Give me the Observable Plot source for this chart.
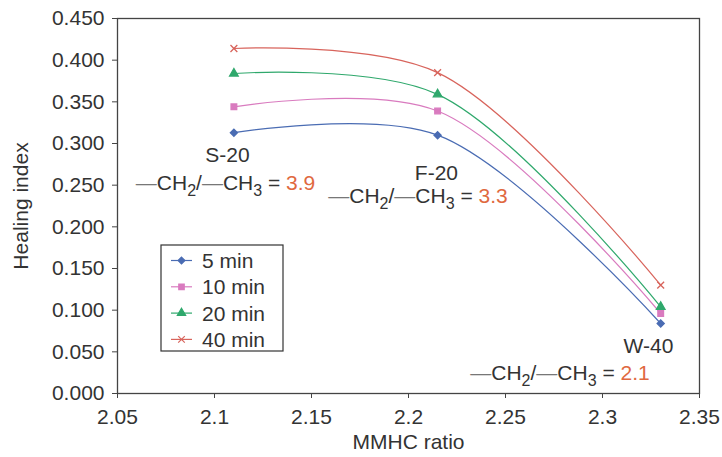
<!DOCTYPE html>
<html><head><meta charset="utf-8">
<script src="https://cdn.jsdelivr.net/npm/d3@7"></script>
<script src="https://cdn.jsdelivr.net/npm/@observablehq/plot@0.6"></script>
<style>html,body{margin:0;padding:0;background:#fff;overflow:hidden}#chart svg{display:block}</style>
</head><body><div id="chart"></div>
<script>
const ratios = [2.11, 2.215, 2.33];
const seriesNames = ["5 min", "10 min", "20 min", "40 min"];
const v5 = [0.313, 0.310, 0.084];
const v10 = [0.344, 0.339, 0.096];
const v20 = [0.384, 0.359, 0.104];
const v40 = [0.414, 0.385, 0.130];
const colors = ["#4a6cb3", "#d97bbf", "#2fa86c", "#d8645c"];
const symbols = ["diamond2", "square", "triangle", "times"];
const xTicks = [2.05, 2.1, 2.15, 2.2, 2.25, 2.3, 2.35];
const yTicks = [0, 0.05, 0.1, 0.15, 0.2, 0.25, 0.3, 0.35, 0.4, 0.45];
const sampleNames = ["S-20", "F-20", "W-40"];
const sampleLabelX = [2.1067, 2.2144, 2.3237];
const sampleLabelY = [0.2857, 0.2641, 0.0564];
const ratioText = ["3.9", "3.3", "2.1"];
const formulaX = [2.1057, 2.2049, 2.2781];
const formulaY = [0.2521, 0.2365, 0.0246];

const allVals = [v5, v10, v20, v40];
const data = [];
allVals.forEach((vals, s) => vals.forEach((v, i) => data.push({x: ratios[i], y: v, s: seriesNames[s]})));
const ann = sampleNames.map((n, i) => ({n, lx: sampleLabelX[i], ly: sampleLabelY[i], r: ratioText[i], fx: formulaX[i], fy: formulaY[i]}));

const FS = 21;
const axisColor = "#444";
const chart = Plot.plot({
  width: 722, height: 457,
  marginLeft: 117, marginRight: 23, marginTop: 18, marginBottom: 64,
  style: {fontFamily: "Liberation Sans, Arial, sans-serif", color: "#333", background: "#fff", fontSize: FS + "px"},
  x: {domain: [2.05, 2.35]},
  y: {domain: [0, 0.45]},
  color: {domain: seriesNames, range: colors},
  symbol: {domain: seriesNames, range: symbols},
  marks: [
    Plot.frame({stroke: axisColor, strokeWidth: 1.3}),
    Plot.axisX({ticks: xTicks, tickFormat: d => String(+d.toFixed(2)), fontSize: FS, tickSize: 5, tickPadding: 11, stroke: axisColor,
      label: "MMHC ratio", labelAnchor: "center", labelArrow: "none", labelOffset: 55}),
    Plot.axisY({ticks: yTicks, tickFormat: d3.format(".3f"), fontSize: FS, tickSize: 5, tickPadding: 8, stroke: axisColor,
      label: "Healing index", labelAnchor: "center", labelArrow: "none", labelOffset: 104}),
    Plot.line(data, {x: "x", y: "y", z: "s", stroke: "s", curve: "catmull-rom", strokeWidth: 1.2}),
    Plot.dot(data, {x: "x", y: "y", symbol: "s", fill: "s", stroke: "s", r: 3.2, strokeWidth: 1.3}),
    Plot.text(ann, {x: "lx", y: "ly", text: "n", fontSize: FS, fill: "#333"}),
    Plot.text(ann, {x: "fx", y: "fy", text: "r", fontSize: FS, fill: "#333"})
  ]
});
const svg = d3.select(chart);
svg.selectAll("g[aria-label='x-axis label'], g[aria-label='y-axis label']").attr("font-size", 21);

// Rebuild formula text (second text mark) with real subscripts
const textGroups = svg.selectAll("g[aria-label='text']").nodes();
d3.select(textGroups[textGroups.length - 1]).selectAll("text").each(function() {
  const t = d3.select(this);
  const val = t.text();
  t.text(null);
  const parts = [
    ["\u2014", "dash"], ["CH", null], ["2", "sub"], ["/", "up"], ["\u2014", "dash"], ["CH", null], ["3", "sub"], [" = ", "up"], [val, "num"]
  ];
  parts.forEach(([s, kind]) => {
    const sp = t.append("tspan").text(s);
    if (kind === "sub") sp.attr("font-size", 16).attr("dy", 6);
    if (kind === "up") sp.attr("dy", -6);
    if (kind === "dash") sp.attr("fill", "#777");
    if (kind === "num") sp.attr("fill", "#e0693f");
  });
});

const lg = svg.append("g").attr("font-family", "Liberation Sans, Arial, sans-serif").attr("text-anchor", "start");
lg.append("rect").attr("x", 161).attr("y", 245).attr("width", 122).attr("height", 106)
  .attr("fill", "#fff").attr("stroke", "#333").attr("stroke-width", 1.2);
const symTypes = [d3.symbolDiamond2, d3.symbolSquare, d3.symbolTriangle, d3.symbolTimes];
seriesNames.forEach((n, i) => {
  const cy = 260.5 + i * 26.3;
  lg.append("line").attr("x1", 171).attr("x2", 192).attr("y1", cy).attr("y2", cy).attr("stroke", colors[i]).attr("stroke-width", 1.2);
  lg.append("path").attr("d", d3.symbol(symTypes[i], 30)()).attr("transform", `translate(181.5,${cy})`)
    .attr("fill", colors[i]).attr("stroke", colors[i]).attr("stroke-width", 1.2);
  lg.append("text").attr("x", 202).attr("y", cy).attr("dy", "0.36em").attr("font-size", FS).attr("fill", "#333").text(n);
});
document.getElementById("chart").appendChild(chart);
</script></body></html>
